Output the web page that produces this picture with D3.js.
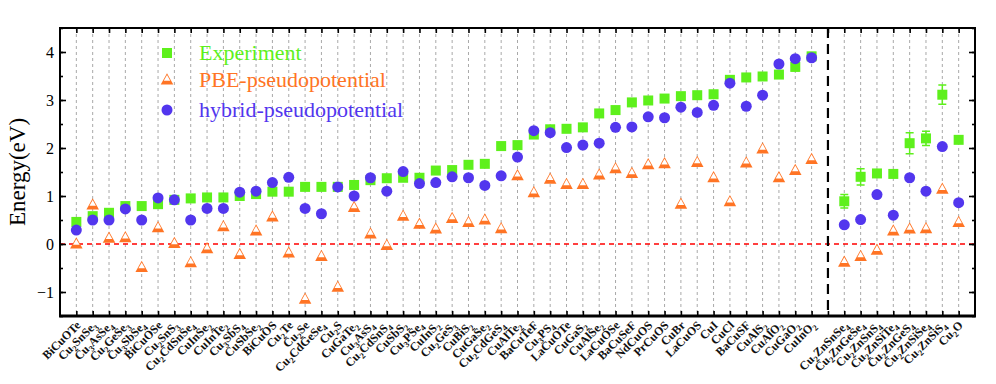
<!DOCTYPE html>
<html>
<head>
<meta charset="utf-8">
<script src="https://cdn.jsdelivr.net/npm/d3@7"></script>
<style>
  body { margin: 0; background: #fff; }
  svg { display: block; }
</style>
</head>
<body>
<div id="chart"></div>
<script>
// compounds; the empty slot is where the dashed divider sits
var categories = ["BiCuOTe","Cu2SnSe3","Cu3AsSe4","Cu2GeSe3","Cu3SbSe4","BiCuOSe","Cu2SnS3","Cu2CdSnSe4","CuInSe2","CuInTe2",
    "Cu3SbS4","CuSbSe2","BiCuOS","Cu2Te","Cu2Se","Cu2CdGeSe4","Cu2S","CuGaTe2","Cu3AsS4","Cu2CdSnS4",
    "CuSbS2","Cu3PSe4","CuInS2","Cu2GeS3","CuBiS2","CuGaSe2","Cu2CdGeS4","CuAlTe2","BaCuTeF","Cu3PS4",
    "LaCuOTe","CuGaS2","CuAlSe2","LaCuOSe","BaCuSeF","NdCuOS","PrCuOS","CuBr","LaCuOS","CuI",
    "CuCl","BaCuSF","CuAlS2","CuAlO2","CuGaO2","CuInO2","",
    "Cu2ZnSnSe4","Cu2ZnGeSe4","Cu2ZnSnS4","Cu2ZnSiTe4","Cu2ZnGeS4","Cu2ZnSiSe4","Cu2ZnSiS4","Cu2O"];
var experiment = [0.46,0.58,0.65,0.79,0.79,0.83,0.92,0.95,0.97,0.97,
    1.0,1.04,1.09,1.09,1.19,1.19,1.19,1.23,1.33,1.37,
    1.38,1.38,1.53,1.54,1.65,1.67,2.04,2.06,2.28,2.39,
    2.40,2.43,2.72,2.79,2.95,2.99,3.03,3.08,3.10,3.12,
    3.42,3.47,3.49,3.53,3.69,3.91,null,
    0.89,1.40,1.47,1.46,2.10,2.20,3.11,2.17];
var expError = [0,0,0,0,0,0,0,0,0,0,
    0,0,0,0,0,0,0,0,0,0,
    0,0,0,0,0,0,0,0,0,0,
    0,0,0,0,0,0,0,0,0,0,
    0,0,0,0,0.08,0,null,
    0.14,0.17,0,0,0.22,0.15,0.2,0];
var pbe = [0.0,0.81,0.12,0.13,-0.49,0.34,0.01,-0.39,-0.10,0.36,
    -0.22,0.27,0.56,-0.19,-1.15,-0.26,-0.90,0.76,0.21,-0.03,
    0.58,0.41,0.31,0.53,0.45,0.50,0.32,1.42,1.07,1.35,
    1.24,1.24,1.44,1.57,1.47,1.65,1.67,0.83,1.70,1.38,
    0.88,1.69,1.98,1.38,1.53,1.76,null,
    -0.38,-0.26,-0.13,0.27,0.31,0.32,1.14,0.45];
var hybrid = [0.29,0.50,0.50,0.73,0.50,0.96,0.92,0.50,0.74,0.74,
    1.08,1.10,1.28,1.39,0.74,0.63,1.19,1.00,1.38,1.10,
    1.51,1.26,1.28,1.40,1.38,1.22,1.42,1.81,2.36,2.32,
    2.01,2.06,2.10,2.43,2.44,2.65,2.63,2.85,2.74,2.89,
    3.35,2.87,3.10,3.75,3.86,3.88,null,
    0.40,0.51,1.03,0.60,1.38,1.10,2.03,0.86];
var yTicks = [-1,0,1,2,3,4];
var legendNames = ["Experiment","PBE-pseudopotential","hybrid-pseudopotential"];

var green = "#5ef01c", orange = "#ff7424", blue = "#5236ee";
var serif = "'Liberation Serif','Times New Roman',serif";

var W = 996, H = 384;
var pLeft = 60, pRight = 975, pTop = 28, pBottom = 316;
var divider = categories.indexOf("");

var x = d3.scaleLinear().domain([-1, categories.length]).range([pLeft, pRight]);
var y = d3.scaleLinear().domain([-1.5, 4.5]).range([pBottom, pTop]);

var svg = d3.select("#chart").append("svg")
    .attr("width", W)
    .attr("height", H)
    .style("font-family", serif);

var idx = d3.range(categories.length);

// vertical dashed grid
svg.selectAll(".grid")
    .data(idx.filter(function(i) { return i !== divider; }))
    .enter().append("line")
    .attr("class", "grid")
    .attr("x1", function(i) { return x(i); })
    .attr("x2", function(i) { return x(i); })
    .attr("y1", pTop)
    .attr("y2", pBottom)
    .attr("stroke", "#a9a9a9")
    .attr("stroke-width", 1)
    .attr("stroke-dasharray", "3,3");

// zero line
svg.append("line")
    .attr("x1", pLeft).attr("x2", pRight)
    .attr("y1", y(0)).attr("y2", y(0))
    .attr("stroke", "#f00")
    .attr("stroke-width", 1.3)
    .attr("stroke-dasharray", "5,4");

// divider
svg.append("line")
    .attr("x1", x(divider)).attr("x2", x(divider))
    .attr("y1", pTop).attr("y2", pBottom)
    .attr("stroke", "#000")
    .attr("stroke-width", 2.2)
    .attr("stroke-dasharray", "10,6");

// axes: ticks drawn inward on all four sides
svg.append("g")
    .attr("transform", "translate(0," + pBottom + ")")
    .call(d3.axisBottom(x).tickValues(idx).tickSizeInner(-5).tickSizeOuter(0).tickFormat(""));
svg.append("g")
    .attr("transform", "translate(0," + pTop + ")")
    .call(d3.axisTop(x).tickValues(idx).tickSizeInner(-5).tickSizeOuter(0).tickFormat(""));

var halfTicks = d3.range(-1.5, 4.51, 0.5);
svg.append("g")
    .attr("transform", "translate(" + pLeft + ",0)")
    .call(d3.axisLeft(y).tickValues(halfTicks).tickSizeInner(-3).tickSizeOuter(0).tickFormat(""));
svg.append("g")
    .attr("transform", "translate(" + pRight + ",0)")
    .call(d3.axisRight(y).tickValues(halfTicks).tickSizeInner(-3).tickSizeOuter(0).tickFormat(""));
svg.append("g")
    .attr("transform", "translate(" + pLeft + ",0)")
    .call(d3.axisLeft(y).tickValues(yTicks).tickSizeInner(-6).tickSizeOuter(0).tickPadding(6).tickFormat(d3.format("d")))
    .call(function(g) { g.selectAll("text").style("font-size", "16px").style("font-family", serif).attr("fill", "#000"); });
svg.append("g")
    .attr("transform", "translate(" + pRight + ",0)")
    .call(d3.axisRight(y).tickValues(yTicks).tickSizeInner(-6).tickSizeOuter(0).tickFormat(""));

svg.selectAll(".domain").remove();
svg.selectAll(".tick line").attr("stroke", "#000").attr("stroke-width", 1.6);

// frame
svg.append("rect")
    .attr("x", pLeft).attr("y", pTop)
    .attr("width", pRight - pLeft).attr("height", pBottom - pTop)
    .attr("fill", "none")
    .attr("stroke", "#000")
    .attr("stroke-width", 2);
svg.append("line")
    .attr("x1", pLeft - 1).attr("x2", pRight + 1)
    .attr("y1", pBottom).attr("y2", pBottom)
    .attr("stroke", "#000").attr("stroke-width", 3);

// category labels with subscripts
var labels = svg.selectAll(".clabel")
    .data(idx.filter(function(i) { return categories[i] !== ""; }))
    .enter().append("text")
    .attr("class", "clabel")
    .attr("transform", function(i) { return "translate(" + (x(i) + 5) + "," + (pBottom + 10) + ") rotate(-45)"; })
    .attr("text-anchor", "end")
    .style("font-size", "12px")
    .style("font-weight", "bold")
    .attr("fill", "#111");
labels.each(function(i) {
    var t = d3.select(this);
    var parts = categories[i].match(/\d+|\D+/g);
    var shifted = false;
    parts.forEach(function(p) {
        var isNum = /\d/.test(p);
        var ts = t.append("tspan").text(p);
        if (isNum) {
            ts.attr("dy", 3).style("font-size", "8.5px");
            shifted = true;
        } else if (shifted) {
            ts.attr("dy", -3);
            shifted = false;
        }
    });
});

// y label
svg.append("text")
    .attr("transform", "translate(25," + ((pTop + pBottom) / 2) + ") rotate(-90)")
    .attr("text-anchor", "middle")
    .style("font-size", "23px")
    .text("Energy(eV)");

function triPath(s) {
    var h = s * 0.9;
    return "M0," + (-h * 0.6) + "L" + (s / 2) + "," + (h * 0.4) + "L" + (-s / 2) + "," + (h * 0.4) + "Z";
}
function drawTri(g, cx, cy) {
    var t = g.append("g").attr("transform", "translate(" + cx + "," + cy + ")");
    t.append("path").attr("d", triPath(12.5)).attr("fill", orange);
    t.append("path").attr("d", triPath(6.5)).attr("transform", "translate(0,-1.6)").attr("fill", "#fff");
}

// experiment error bars
var errIdx = idx.filter(function(i) { return expError[i]; });
svg.selectAll(".err")
    .data(errIdx)
    .enter().append("path")
    .attr("class", "err")
    .attr("d", function(i) {
        var a = y(experiment[i] + expError[i]), b = y(experiment[i] - expError[i]), cx = x(i);
        return "M" + cx + "," + a + "V" + b + "M" + (cx - 4) + "," + a + "H" + (cx + 4) + "M" + (cx - 4) + "," + b + "H" + (cx + 4);
    })
    .attr("stroke", green)
    .attr("stroke-width", 1.5)
    .attr("fill", "none");

// experiment squares
svg.selectAll(".sq")
    .data(idx.filter(function(i) { return experiment[i] !== null; }))
    .enter().append("rect")
    .attr("class", "sq")
    .attr("x", function(i) { return x(i) - 5; })
    .attr("y", function(i) { return y(experiment[i]) - 5; })
    .attr("width", 10)
    .attr("height", 10)
    .attr("fill", green);

// PBE triangles
var triG = svg.append("g");
idx.filter(function(i) { return pbe[i] !== null; }).forEach(function(i) {
    drawTri(triG, x(i), y(pbe[i]));
});

// hybrid circles
svg.selectAll(".dot")
    .data(idx.filter(function(i) { return hybrid[i] !== null; }))
    .enter().append("circle")
    .attr("class", "dot")
    .attr("cx", function(i) { return x(i); })
    .attr("cy", function(i) { return y(hybrid[i]); })
    .attr("r", 5.5)
    .attr("fill", blue);

// legend
var legY = [53, 80, 110];
var legColors = [green, orange, blue];
svg.append("rect").attr("x", 162).attr("y", legY[0] - 5).attr("width", 10).attr("height", 10).attr("fill", green);
drawTri(svg, 167, legY[1]);
svg.append("circle").attr("cx", 167).attr("cy", legY[2]).attr("r", 5.5).attr("fill", blue);
svg.selectAll(".leg")
    .data(legendNames)
    .enter().append("text")
    .attr("class", "leg")
    .attr("x", 199)
    .attr("y", function(d, i) { return legY[i] + 7; })
    .attr("fill", function(d, i) { return legColors[i]; })
    .style("font-size", "22px")
    .text(function(d) { return d; });
</script>
</body>
</html>
